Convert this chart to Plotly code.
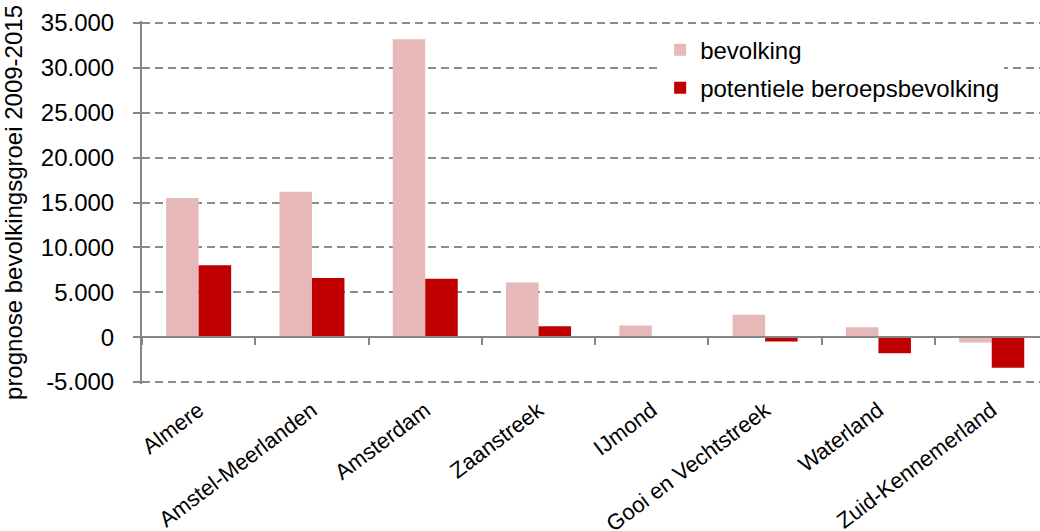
import plotly.graph_objects as go

# regio's en prognose bevolkingsgroei 2009-2015
regios = ["Almere", "Amstel-Meerlanden", "Amsterdam", "Zaanstreek", "IJmond",
          "Gooi en Vechtstreek", "Waterland", "Zuid-Kennemerland"]
bevolking = [15500, 16200, 33200, 6100, 1300, 2500, 1100, -600]
beroepsbevolking = [8000, 6600, 6500, 1200, -30, -500, -1800, -3400]

y_ticks = [-5000, 0, 5000, 10000, 15000, 20000, 25000, 30000, 35000]
y_labels = ["-5.000", "0", "5.000", "10.000", "15.000", "20.000", "25.000", "30.000", "35.000"]

FONT = "Liberation Sans, Arial, sans-serif"
GRAY = "#868686"

fig = go.Figure()
fig.add_trace(go.Bar(x=regios, y=bevolking, name="bevolking",
                     marker=dict(color="#E6B9B8", line=dict(width=0)),
                     legendgroup="a"))
fig.add_trace(go.Bar(x=regios, y=beroepsbevolking, name="potentiele beroepsbevolking",
                     marker=dict(color="#C00000", line=dict(width=0)),
                     legendgroup="b"))
# onzichtbaar spoor zodat de as op nul (met streepjes tussen de categorieen) getekend wordt
fig.add_trace(go.Scatter(x=regios, y=bevolking, xaxis="x2", mode="markers",
                         marker=dict(opacity=0), showlegend=False, hoverinfo="skip"))

# een beetje ruimte zodat de rasterlijnen op -5.000 en 35.000 getekend worden
yrange = [-5223, 35223]
xrange = [-0.5, 7.426]
zero_pos = (0 - yrange[0]) / (yrange[1] - yrange[0])

fig.update_layout(
    width=1040, height=531,
    margin=dict(l=142, r=0, t=21, b=147),
    paper_bgcolor="white", plot_bgcolor="white",
    font=dict(family=FONT, size=24, color="black"),
    barmode="group", bargap=0.426, bargroupgap=0,
    showlegend=True,
    legend=dict(x=0.577, y=0.982, xanchor="left", yanchor="top",
                bgcolor="white", font=dict(size=24), traceorder="grouped",
                tracegroupgap=4, itemwidth=30),
    xaxis=dict(type="category", range=xrange, showline=False, showgrid=False,
               automargin=False, ticks="outside", ticklen=4, tickcolor="rgba(0,0,0,0)",
               tickangle=-37, tickfont=dict(size=22)),
    xaxis2=dict(type="category", range=xrange, overlaying="x", anchor="free",
                position=zero_pos, side="bottom", showline=True, linecolor=GRAY,
                linewidth=2.2, ticks="outside", tickson="boundaries", ticklen=7,
                tickwidth=1.8, tickcolor=GRAY, showticklabels=False, showgrid=False,
                automargin=False),
    yaxis=dict(range=yrange, tickvals=y_ticks, ticktext=y_labels, automargin=False,
               showline=True, linecolor=GRAY, linewidth=2,
               ticks="outside", ticklen=7, tickcolor=GRAY, tickwidth=1.8,
               ticklabelstandoff=14,
               showgrid=True, gridcolor="#8c8c8c", gridwidth=1.5, griddash="8px,5px",
               zeroline=False, tickfont=dict(size=24),
               title=dict(text="prognose bevolkingsgroei 2009-2015", font=dict(size=24),
                          standoff=30)),
)

# geen standaard marge van de pagina, zodat de figuur het hele venster vult
fig.write_html("out.html", config={"displayModeBar": False},
               post_script="document.body.style.margin='0';")
